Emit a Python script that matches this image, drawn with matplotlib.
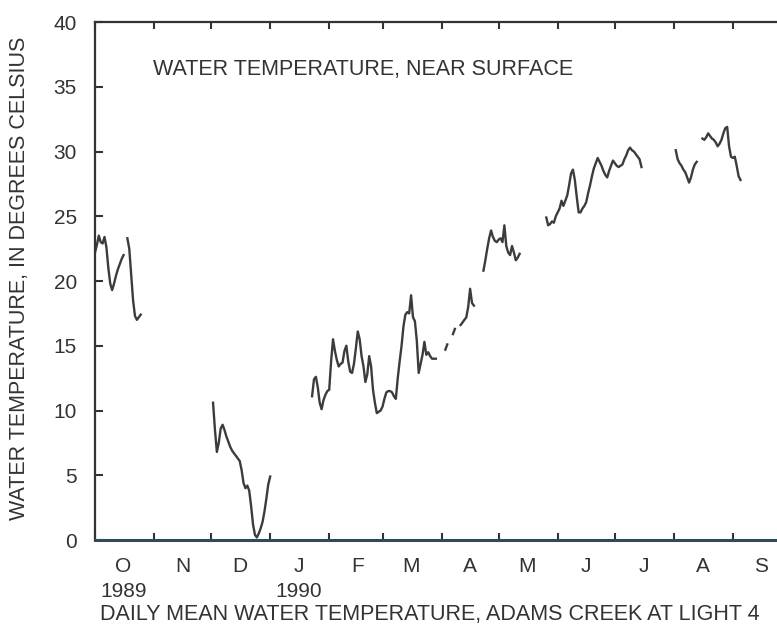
import pandas as pd
import matplotlib
matplotlib.use('Agg')  # no display
import matplotlib.pyplot as plt
import matplotlib.dates as mdates

# month initials along the bottom, year under the first month of each year
months = ['O', 'N', 'D', 'J', 'F', 'M', 'A', 'M', 'J', 'J', 'A', 'S']
year_under = {0: '1989', 3: '1990'}
yticks = [0, 5, 10, 15, 20, 25, 30, 35, 40]

# daily mean water temperature, deg C. each list is an unbroken run of days
oct_a_start = '1989-10-01'
oct_a = [22.2, 22.8, 23.5, 23.0, 22.9, 23.4, 22.6, 21.0, 19.8, 19.3,
         19.8, 20.4, 20.9, 21.3, 21.7, 22.0]

oct_b_start = '1989-10-18'
oct_b = [23.3, 22.5, 20.5, 18.5, 17.3, 17.0, 17.2, 17.4]

dec_start = '1989-12-02'
dec = [10.6, 8.5, 6.8, 7.5, 8.6, 8.9, 8.5, 8.0, 7.6, 7.2,
       6.9, 6.7, 6.5, 6.3, 6.1, 5.4, 4.4, 4.0, 4.2, 3.8,
       2.6, 1.2, 0.4, 0.2, 0.5, 0.9, 1.4, 2.2, 3.2, 4.3, 4.9]

jan_start = '1990-01-23'
jan_mar = [11.1, 12.4, 12.6, 11.8, 10.6, 10.1, 10.8, 11.2, 11.5, 11.6,
           13.8, 15.5, 14.6, 13.9, 13.4, 13.6, 13.7, 14.6, 15.0, 13.8,
           13.0, 12.9, 13.6, 14.8, 16.1, 15.5, 14.2, 13.4, 12.2, 12.8,
           14.2, 13.4, 11.6, 10.6, 9.8, 9.9, 10.0, 10.3, 10.9, 11.4,
           11.5, 11.5, 11.4, 11.1, 10.9, 12.5, 13.8, 15.0, 16.5, 17.4,
           17.6, 17.5, 18.9, 17.2, 16.9, 15.4, 12.9, 13.6, 14.3, 15.3,
           14.3, 14.5, 14.2, 14.0, 14.0, 14.0]

apr_a_start = '1990-04-03'
apr_a = [14.7, 15.1]

apr_b_start = '1990-04-07'
apr_b = [15.9, 16.3]

apr_c_start = '1990-04-11'
apr_c = [16.6, 16.8, 17.0, 17.2, 18.0, 19.4, 18.3, 18.1]

apr_d_start = '1990-04-23'
apr_d = [20.8, 21.6, 22.5, 23.3, 23.9, 23.4, 23.1, 23.0, 23.2, 23.3,
         23.0, 24.3, 22.7, 22.2, 22.0, 22.7, 22.2, 21.6, 21.8, 22.1]

may_start = '1990-05-26'
may_jul = [24.9, 24.3, 24.4, 24.6, 24.5, 25.0, 25.3, 25.6, 26.2, 25.8,
           26.2, 26.6, 27.4, 28.3, 28.6, 27.8, 26.5, 25.3, 25.3, 25.6,
           25.8, 26.1, 26.8, 27.4, 28.1, 28.7, 29.1, 29.5, 29.2, 28.9,
           28.5, 28.2, 28.0, 28.5, 28.9, 29.3, 29.1, 28.9, 28.8, 28.9,
           29.0, 29.4, 29.7, 30.1, 30.3, 30.1, 30.0, 29.8, 29.6, 29.4, 28.8]

aug_a_start = '1990-08-02'
aug_a = [30.1, 29.4, 29.1, 28.9, 28.6, 28.4, 28.0, 27.6, 28.0, 28.6,
         29.0, 29.2]

aug_b_start = '1990-08-16'
aug_b = [31.0, 30.9, 31.1, 31.4, 31.2, 31.0, 30.9, 30.7, 30.4, 30.6,
         30.9, 31.4, 31.8, 31.9, 30.4, 29.6, 29.5, 29.6, 28.9, 28.1, 27.8]

pieces = [(oct_a_start, oct_a), (oct_b_start, oct_b), (dec_start, dec),
          (jan_start, jan_mar), (apr_a_start, apr_a), (apr_b_start, apr_b),
          (apr_c_start, apr_c), (apr_d_start, apr_d), (may_start, may_jul),
          (aug_a_start, aug_a), (aug_b_start, aug_b)]

ink = '#333333'
plt.rcParams['font.family'] = ['Liberation Sans', 'DejaVu Sans']

fig = plt.figure(figsize=(7.77, 6.30), dpi=100)
# axes runs past the right edge, like the scanned page
ax = fig.add_axes([95 / 777, 90 / 630, 695 / 777, 518 / 630])

for start, vals in pieces:
    days = pd.date_range(start, periods=len(vals), freq='D')
    ax.plot(days, vals, color='#3c3c3c', lw=1.7, solid_joinstyle='round')

ax.set_xlim(pd.Timestamp('1989-10-01'), pd.Timestamp('1990-10-01'))
ax.set_ylim(0, 40)

# month boundaries as small inward ticks, labels sit mid-month
ax.xaxis.set_major_locator(mdates.MonthLocator())
ax.xaxis.set_major_formatter(plt.NullFormatter())
mids = pd.date_range('1989-10-01', periods=12, freq='MS') + pd.Timedelta(days=15)
labels = [m + ('\n' + year_under[i] if i in year_under else '') for i, m in enumerate(months)]
ax.xaxis.set_minor_locator(plt.FixedLocator(mdates.date2num(mids)))
ax.xaxis.set_minor_formatter(plt.FixedFormatter(labels))
ax.tick_params(axis='x', which='major', direction='in', length=5, width=1.5,
               top=True, bottom=True, color=ink)
ax.tick_params(axis='x', which='minor', length=0, pad=12, labelsize=15,
               labelcolor=ink)
for lbl in ax.get_xticklabels(minor=True):
    lbl.set_linespacing(1.4)

ax.set_yticks(yticks)
ax.tick_params(axis='y', direction='in', length=6, width=1.5, pad=13,
               labelsize=15, labelcolor=ink, color=ink)

for side in ['left', 'top', 'right']:
    ax.spines[side].set_color(ink)
    ax.spines[side].set_linewidth(1.6)
ax.spines['bottom'].set_color('#2e4a5e')
ax.spines['bottom'].set_linewidth(2.2)

ax.text(58 / 695, 0.898, 'WATER TEMPERATURE, NEAR SURFACE',
        transform=ax.transAxes, fontsize=15.5, color=ink, va='baseline')

fig.text(19.5 / 777, 1 - 278 / 630, 'WATER TEMPERATURE, IN DEGREES CELSIUS',
         rotation=90, ha='center', va='center', fontsize=15.5, color=ink)
fig.text(100 / 777, 1 - 620 / 630,
         'DAILY MEAN WATER TEMPERATURE, ADAMS CREEK AT LIGHT 4',
         fontsize=15.5, color=ink, va='baseline')

plt.savefig('out.png', dpi=100)
plt.close()
